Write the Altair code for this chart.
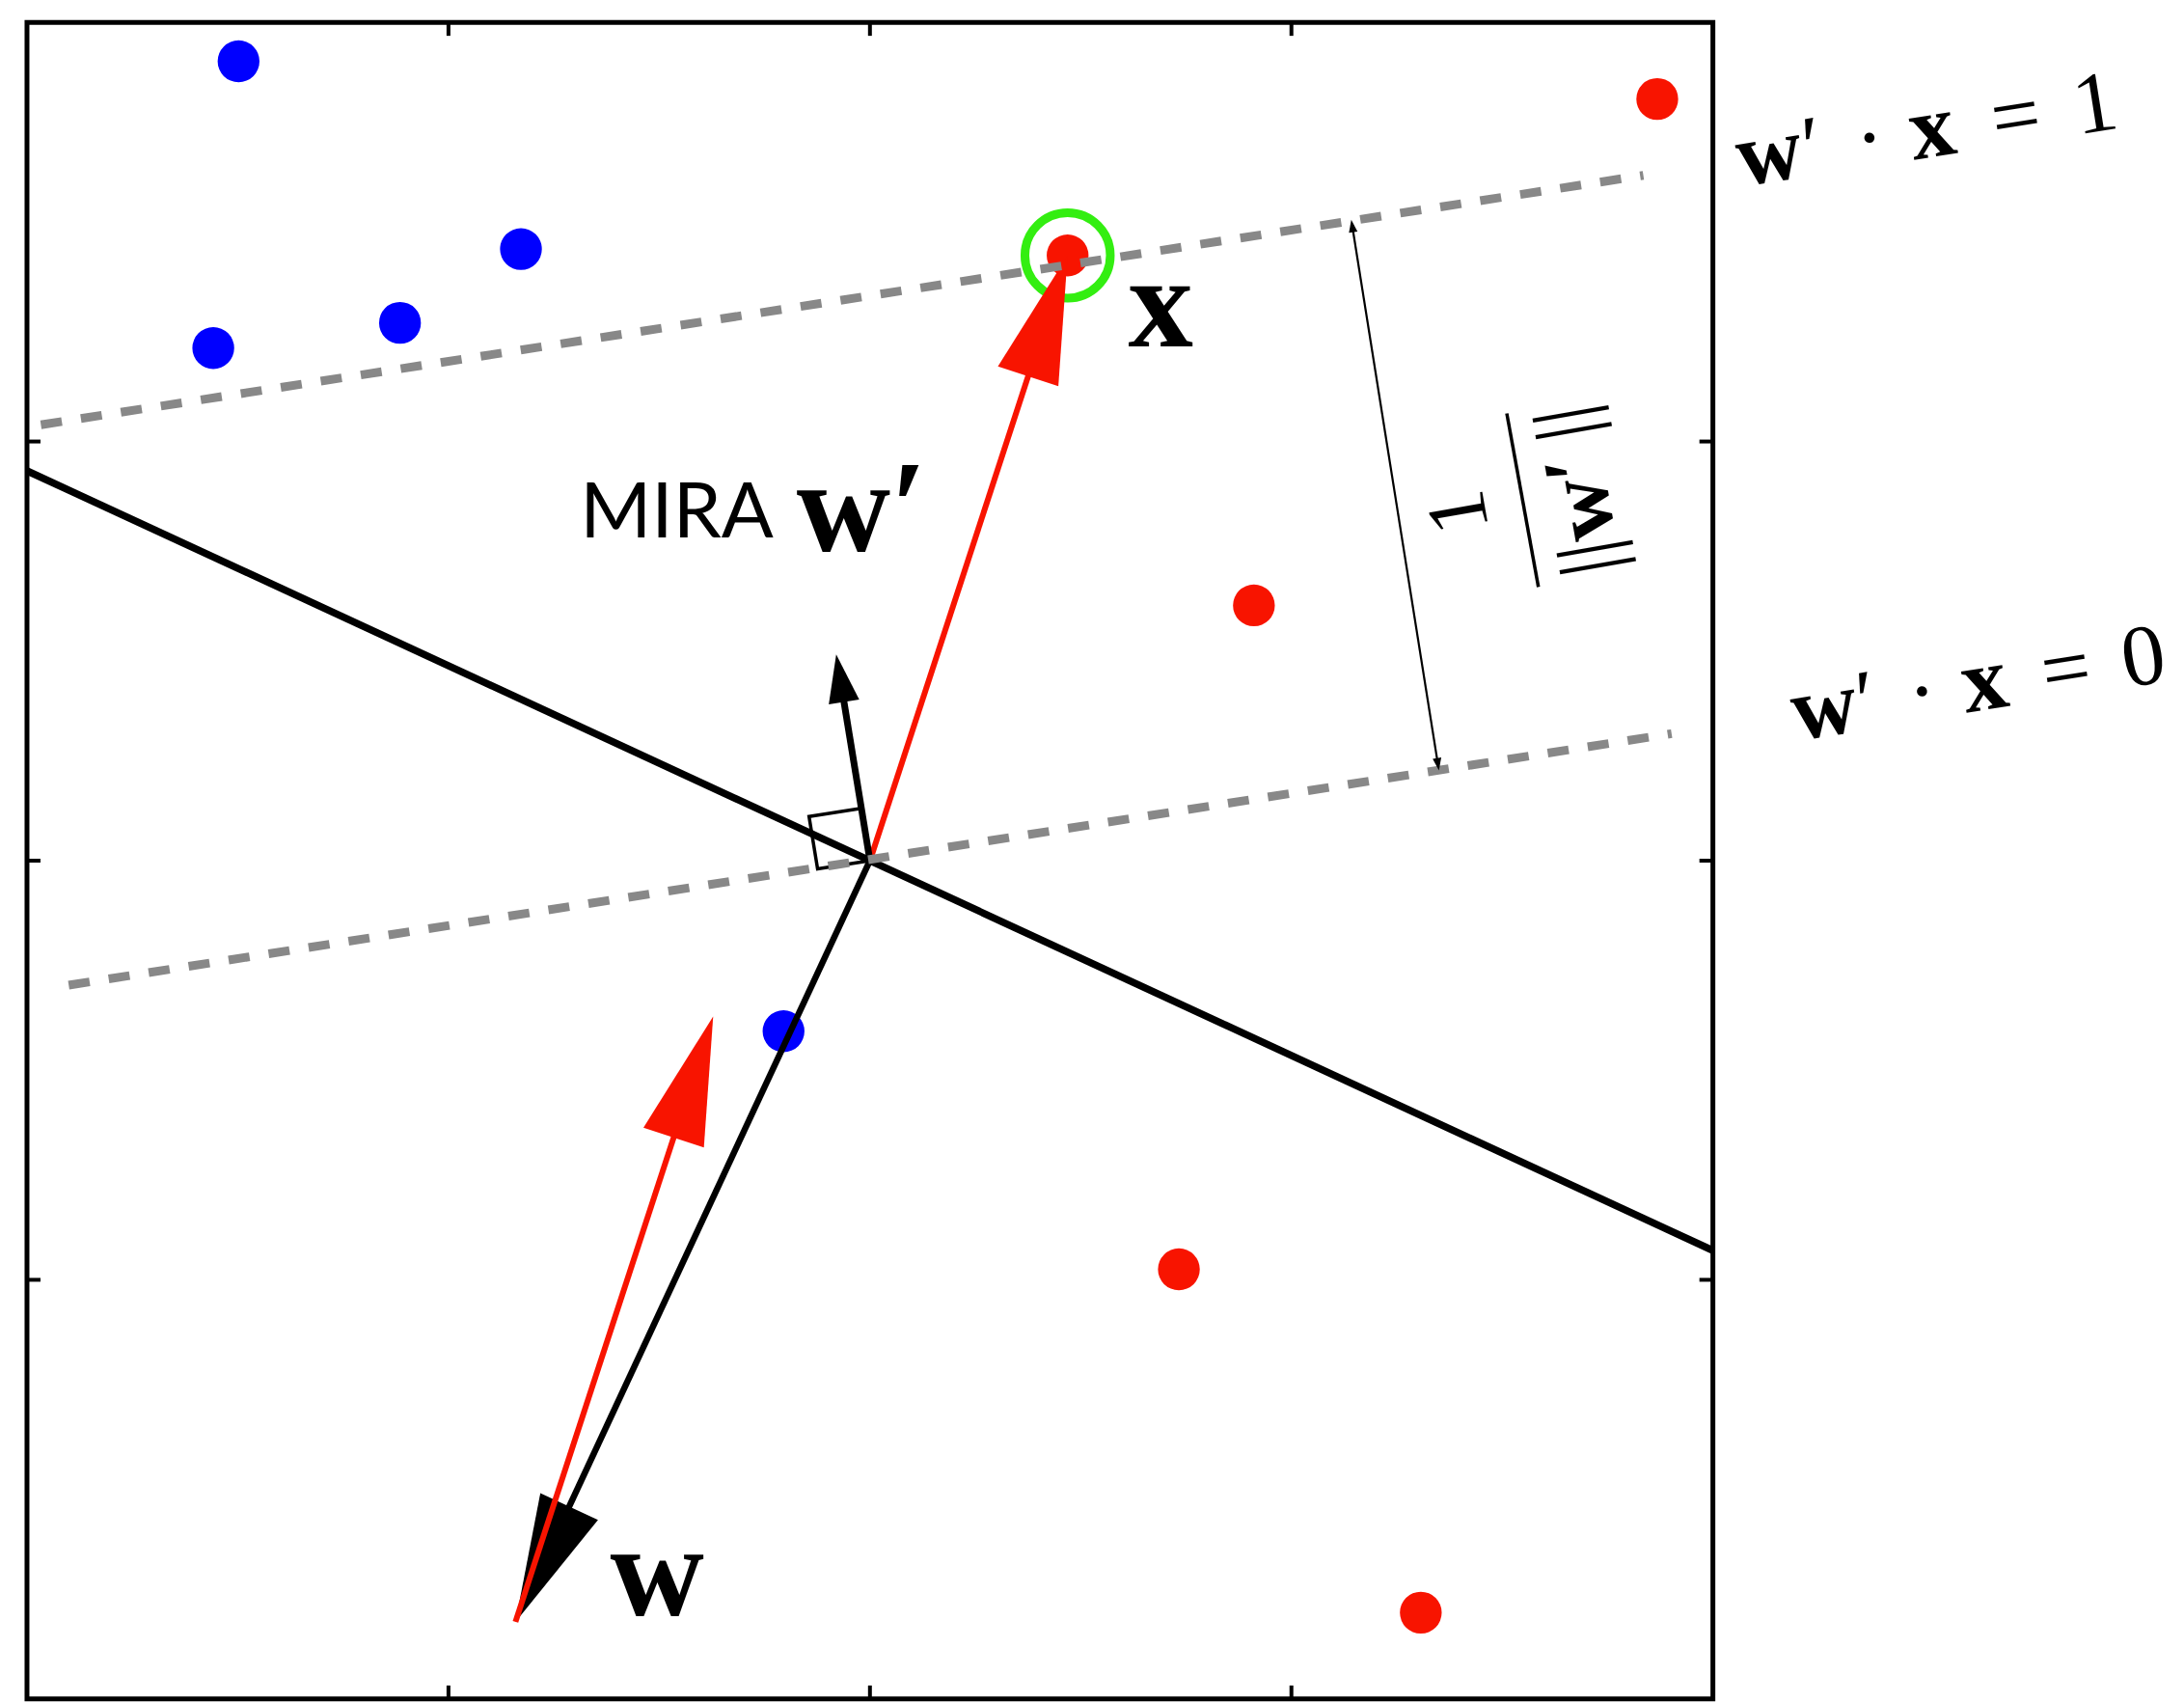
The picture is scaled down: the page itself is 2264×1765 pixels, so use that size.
import math
import altair as alt
import pandas as pd

# ------------------------------------------------------------------
# Values (plot units, both axes run from -2 to 2)
# ------------------------------------------------------------------
x_domain = [-2, 2]
y_domain = [-2, 2]
tick_values = [-1, 0, 1]

neg_x = [-1.498, -0.828, -1.115, -1.558, -0.205]
neg_y = [1.907, 1.459, 1.283, 1.223, -0.407]

pos_x = [1.868, 0.469, 0.911, 0.733, 1.307]
pos_y = [1.817, 1.444, 0.609, -0.975, -1.794]

example_x = [0.469]
example_y = [1.444]

boundary_x = [-2.0, 2.0]
boundary_y = [0.93, -0.93]

margin1_x = [-1.967, 1.835]   # w'.x = 1
margin1_y = [1.040, 1.635]
margin0_x = [-1.901, 1.902]   # w'.x = 0
margin0_y = [-0.297, 0.303]

w_vec = [-0.841, -1.816]      # old weight vector w
w_new_dir = [-0.080, 0.492]   # normal direction of w'.x = 0

gap_x = [1.142, 1.350]        # 1/||w'|| distance marker
gap_y = [1.529, 0.215]

# labels
big_text = ["x", "w"]
big_x = [0.690, -0.505]
big_y = [1.228, -1.800]

mira_text = ["MIRA"]
mira_x = [-0.688]
mira_y = [0.770]
mira_w_text = ["w′"]
mira_w_x = [-0.174]
mira_w_y = [0.740]

eq1_text = ["w", "′", "·", "x", "=", "1"]
eq1_x = [2.144, 2.247, 2.382, 2.530, 2.729, 2.917]
eq1_y = [1.621, 1.637, 1.657, 1.680, 1.710, 1.740]

eq0_text = ["w", "′", "·", "x", "=", "0"]
eq0_x = [2.274, 2.375, 2.507, 2.654, 2.848, 3.031]
eq0_y = [0.299, 0.315, 0.336, 0.361, 0.391, 0.421]

eq_bold = [True, False, False, True, False, False]

frac_text = ["1", "||", "w′", "||"]
frac_bold = [False, False, True, False]
frac_x = [1.401, 1.712, 1.689, 1.655]
frac_y = [0.832, 0.722, 0.867, 1.044]
frac_bar_x = [1.511, 1.586]
frac_bar_y = [1.067, 0.653]

# ------------------------------------------------------------------
W, H = 1750, 1740
KX = W / (x_domain[1] - x_domain[0])
KY = H / (y_domain[1] - y_domain[0])

RED = "#f81400"
BLUE = "#0000ff"
GREEN = "#33ee11"
GRAY = "#888888"
SERIF = "Liberation Serif"


def X(f):
    return alt.X(f + ":Q", scale=alt.Scale(domain=x_domain, nice=False, zero=False), axis=None)


def Y(f):
    return alt.Y(f + ":Q", scale=alt.Scale(domain=y_domain, nice=False, zero=False), axis=None)


def pxv(dx, dy):
    return dx * KX, -dy * KY


def heading(dx, dy):
    a, b = pxv(dx, dy)
    return math.degrees(math.atan2(a, -b)) % 360


def back_off(x0, y0, x1, y1, L):
    a, b = pxv(x1 - x0, y1 - y0)
    n = math.hypot(a, b)
    return x1 - (a / n) * L / KX, y1 + (b / n) * L / KY


def segment(rows, **style):
    return alt.Chart(pd.DataFrame(rows)).mark_rule(**style).encode(
        x=X("x"), y=Y("y"), x2=alt.X2("x2:Q"), y2=alt.Y2("y2:Q"))


def heads(rows, color, L, B):
    path = f"M0,0L{-B},{L}L{B},{L}Z"
    return alt.Chart(pd.DataFrame(rows)).mark_point(
        shape=path, size=4, filled=True, color=color, opacity=1, strokeWidth=0
    ).encode(x=X("x"), y=Y("y"), angle=alt.Angle("ang:Q", scale=None))


def arrow(segs, color, width, L, B, double=False):
    shafts, hs = [], []
    for (x0, y0, x1, y1) in segs:
        bx, by = back_off(x0, y0, x1, y1, L * 0.8)
        sx, sy = (x0, y0)
        if double:
            sx, sy = back_off(x1, y1, x0, y0, L * 0.8)
            hs.append(dict(x=x0, y=y0, ang=heading(x0 - x1, y0 - y1)))
        shafts.append(dict(x=sx, y=sy, x2=bx, y2=by))
        hs.append(dict(x=x1, y=y1, ang=heading(x1 - x0, y1 - y0)))
    return [segment(shafts, color=color, strokeWidth=width), heads(hs, color, L, B)]


def texts(t, xs, ys, **style):
    df = pd.DataFrame({"t": t, "x": xs, "y": ys})
    return alt.Chart(df).mark_text(color="black", **style).encode(
        x=X("x"), y=Y("y"), text="t:N")


layers = []

# decision boundary
layers.append(segment([dict(x=boundary_x[0], y=boundary_y[0], x2=boundary_x[1], y2=boundary_y[1])],
                      color="black", strokeWidth=7.5))

# data points
layers.append(alt.Chart(pd.DataFrame({"x": neg_x, "y": neg_y})).mark_circle(
    size=1886, color=BLUE, opacity=1).encode(x=X("x"), y=Y("y")))
layers.append(alt.Chart(pd.DataFrame({"x": pos_x, "y": pos_y})).mark_circle(
    size=1886, color=RED, opacity=1).encode(x=X("x"), y=Y("y")))

# highlighted example
layers.append(alt.Chart(pd.DataFrame({"x": example_x, "y": example_y})).mark_point(
    shape="circle", size=7854, filled=False, color=GREEN, strokeWidth=9, opacity=1
).encode(x=X("x"), y=Y("y")))

# old weight vector w (black)
layers += arrow([(0.0, 0.0, w_vec[0], w_vec[1])], "black", 6.5, 132, 33)

# red vectors: x from origin, and x added at the tip of w
ex, ey = example_x[0], example_y[0]
layers += arrow([(0.0, 0.0, ex, ey), (w_vec[0], w_vec[1], w_vec[0] + ex, w_vec[1] + ey)], RED, 6, 132, 33)

# w' direction (short black arrow)
layers += arrow([(0.0, 0.0, w_new_dir[0], w_new_dir[1])], "black", 7, 50, 16)

# right-angle marker
s = 55.0
ua, ub = pxv(*w_new_dir)
un = math.hypot(ua, ub)
ua, ub = ua / un, ub / un
va, vb = pxv(margin0_x[1] - margin0_x[0], margin0_y[1] - margin0_y[0])
vn = math.hypot(va, vb)
va, vb = va / vn, vb / vn
corners_px = [(0, 0), (s * ua, s * ub), (s * ua - s * va, s * ub - s * vb), (-s * va, -s * vb), (0, 0)]
sq = pd.DataFrame({"x": [c[0] / KX for c in corners_px],
                   "y": [-c[1] / KY for c in corners_px],
                   "o": list(range(len(corners_px)))})
layers.append(alt.Chart(sq).mark_line(color="black", strokeWidth=3.5).encode(
    x=X("x"), y=Y("y"), order="o:Q"))

# dashed margin lines
layers.append(segment([dict(x=margin1_x[0], y=margin1_y[0], x2=margin1_x[1], y2=margin1_y[1]),
                       dict(x=margin0_x[0], y=margin0_y[0], x2=margin0_x[1], y2=margin0_y[1])],
                      color=GRAY, strokeWidth=9, strokeDash=[22, 20]))

# distance marker 1/||w'||
layers += arrow([(gap_x[0], gap_y[0], gap_x[1], gap_y[1])], "black", 2.2, 13, 4.5, double=True)

# fraction bar
layers.append(segment([dict(x=frac_bar_x[0], y=frac_bar_y[0], x2=frac_bar_x[1], y2=frac_bar_y[1])],
                      color="black", strokeWidth=3.5))

# axis ticks (inward, on all four sides)
TL = 14
tk = pd.DataFrame({"v": tick_values})
layers.append(alt.Chart(tk).mark_rule(color="black", strokeWidth=4).encode(
    x=X("v"), y=alt.value(0), y2=alt.value(TL)))
layers.append(alt.Chart(tk).mark_rule(color="black", strokeWidth=4).encode(
    x=X("v"), y=alt.value(H), y2=alt.value(H - TL)))
layers.append(alt.Chart(tk).mark_rule(color="black", strokeWidth=4).encode(
    y=Y("v"), x=alt.value(0), x2=alt.value(TL)))
layers.append(alt.Chart(tk).mark_rule(color="black", strokeWidth=4).encode(
    y=Y("v"), x=alt.value(W), x2=alt.value(W - TL)))

# labels
layers.append(texts(big_text, big_x, big_y, font=SERIF, fontSize=135, fontWeight="bold",
                    align="center", baseline="alphabetic"))
layers.append(texts(mira_text, mira_x, mira_y, font="Lato", fontSize=80,
                    align="left", baseline="alphabetic"))
layers.append(texts(mira_w_text, mira_w_x, mira_w_y, font=SERIF, fontSize=135, fontWeight="bold",
                    align="left", baseline="alphabetic"))

for t, xs, ys in [(eq1_text, eq1_x, eq1_y), (eq0_text, eq0_x, eq0_y)]:
    bt = [(a, b, c) for a, b, c, d in zip(t, xs, ys, eq_bold) if d]
    rt = [(a, b, c) for a, b, c, d in zip(t, xs, ys, eq_bold) if not d]
    layers.append(texts([r[0] for r in bt], [r[1] for r in bt], [r[2] for r in bt],
                        font=SERIF, fontSize=94, fontWeight="bold", angle=351,
                        align="center", baseline="alphabetic"))
    layers.append(texts([r[0] for r in rt], [r[1] for r in rt], [r[2] for r in rt],
                        font=SERIF, fontSize=90, angle=351,
                        align="center", baseline="alphabetic"))

fb = [(a, b, c) for a, b, c, d in zip(frac_text, frac_x, frac_y, frac_bold) if d]
fr = [(a, b, c) for a, b, c, d in zip(frac_text, frac_x, frac_y, frac_bold) if not d]
layers.append(texts([r[0] for r in fb], [r[1] for r in fb], [r[2] for r in fb],
                    font=SERIF, fontSize=90, fontWeight="bold", angle=260,
                    align="center", baseline="middle"))
layers.append(texts([r[0] for r in fr], [r[1] for r in fr], [r[2] for r in fr],
                    font=SERIF, fontSize=88, angle=260,
                    align="center", baseline="middle"))

chart = alt.layer(*layers).properties(
    width=W, height=H,
    padding={"left": 16, "top": 12, "right": 4, "bottom": 0},
    background="white",
).configure_view(stroke="black", strokeWidth=5)

chart.save("out.html", embed_options={"renderer": "svg", "actions": False})
